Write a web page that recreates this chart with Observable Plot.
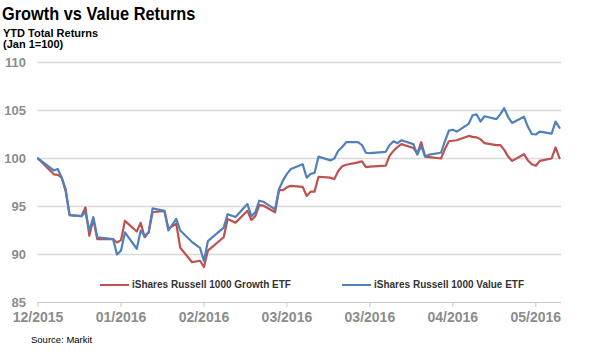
<!DOCTYPE html>
<html><head><meta charset="utf-8">
<script src="https://cdn.jsdelivr.net/npm/d3@7"></script>
<script src="https://cdn.jsdelivr.net/npm/@observablehq/plot@0.6"></script>
<style>
html,body{margin:0;padding:0;background:#fff;}
#wrap{position:relative;width:590px;height:355px;overflow:hidden;font-family:"Liberation Sans",Arial,sans-serif;}
#chart{position:absolute;left:0;top:0;}
.title{position:absolute;left:2px;top:3px;font-size:19px;font-weight:bold;color:#000;transform:scaleX(0.86);transform-origin:left top;white-space:nowrap;line-height:22px;}
.sub{position:absolute;left:3px;font-size:11px;font-weight:bold;color:#000;white-space:nowrap;line-height:12px;}
.legend{position:absolute;top:279px;font-size:10px;font-weight:bold;color:#333;white-space:nowrap;display:flex;align-items:center;}
.legend .sw{display:inline-block;width:29px;height:2px;margin-right:3px;}
.source{position:absolute;left:31px;top:334px;font-size:9.5px;color:#000;white-space:nowrap;}
svg [aria-label="x-axis tick label"] text, svg [aria-label="y-axis tick label"] text{font-weight:bold;}
</style></head>
<body>
<div id="wrap">
  <div id="chart"></div>
  <div class="title">Growth vs Value Returns</div>
  <div class="sub" style="top:27px">YTD Total Returns</div>
  <div class="sub" style="top:38px">(Jan 1=100)</div>
  <div id="legend"></div>
  <div class="source">Source: Markit</div>
</div>
<script>
const dates = ["2015-12-31","2016-01-04","2016-01-05","2016-01-06","2016-01-07","2016-01-08","2016-01-11","2016-01-12","2016-01-13","2016-01-14","2016-01-15","2016-01-19","2016-01-20","2016-01-21","2016-01-22","2016-01-25","2016-01-26","2016-01-27","2016-01-28","2016-01-29","2016-02-01","2016-02-02","2016-02-04","2016-02-05","2016-02-08","2016-02-10","2016-02-11","2016-02-12","2016-02-16","2016-02-17","2016-02-19","2016-02-22","2016-02-23","2016-02-24","2016-02-25","2016-02-26","2016-02-29","2016-03-01","2016-03-02","2016-03-03","2016-03-04","2016-03-07","2016-03-08","2016-03-09","2016-03-10","2016-03-11","2016-03-14","2016-03-15","2016-03-16","2016-03-17","2016-03-18","2016-03-21","2016-03-22","2016-03-23","2016-03-24","2016-03-28","2016-03-29","2016-03-30","2016-03-31","2016-04-01","2016-04-04","2016-04-05","2016-04-06","2016-04-07","2016-04-08","2016-04-11","2016-04-12","2016-04-13","2016-04-14","2016-04-15","2016-04-18","2016-04-19","2016-04-20","2016-04-21","2016-04-22","2016-04-25","2016-04-26","2016-04-27","2016-04-28","2016-04-29","2016-05-02","2016-05-03","2016-05-04","2016-05-05","2016-05-06","2016-05-09","2016-05-10","2016-05-11"];
const growth = [100,98.35,98.3,98.0,96.6,94.1,94.0,94.9,91.95,93.7,91.6,91.6,91.25,91.5,93.5,92.4,93.3,91.8,92.3,94.4,94.55,92.7,93.2,90.7,89.2,89.35,88.7,90.4,91.8,93.7,93.3,94.55,93.6,94.0,95.15,95.1,94.4,96.7,96.7,97.0,97.15,97.05,96.1,96.55,96.55,98.1,98.0,97.85,98.7,99.2,99.35,99.6,99.7,99.1,99.15,99.25,100.3,100.8,101.2,101.5,101.1,100.5,101.7,100.2,100.15,100.0,101.0,101.8,101.85,101.9,102.35,102.25,102.2,102.0,101.6,101.4,101.4,100.9,100.2,99.75,100.45,99.8,99.4,99.25,99.75,100.0,101.15,100.05];
const valueEtf = [100,98.75,98.9,98.0,96.8,94.1,94.0,94.4,92.5,93.9,91.8,91.6,90.0,90.4,92.3,90.6,92.5,91.95,92.3,94.8,94.55,92.5,93.7,92.5,91.3,90.7,89.3,91.4,92.8,94.2,93.9,95.25,94.0,94.4,95.6,95.5,94.7,96.8,97.7,98.4,98.9,99.4,98.0,98.4,98.5,100.2,99.8,100.0,100.8,101.2,101.7,101.7,101.4,100.6,100.55,100.7,101.4,101.8,101.6,101.9,101.5,100.4,101.3,100.2,100.4,100.6,101.8,102.9,103.0,102.8,103.6,104.5,104.6,103.85,104.4,104.1,104.6,105.25,104.3,103.7,104.35,103.3,102.55,102.5,102.8,102.6,103.85,103.2];
const seriesNames = ["iShares Russell 1000 Growth ETF","iShares Russell 1000 Value ETF"];
const seriesColors = ["#c0504d","#4f81bd"];
const yTicks = [85,90,95,100,105,110];
const xTickDates = ["2015-12-31","2016-01-21","2016-02-11","2016-03-03","2016-03-24","2016-04-14","2016-05-05"];
const xDomain = ["2015-12-31","2016-05-11T12:00"];

const parse = s => new Date(s.length > 10 ? s + "Z" : s + "T00:00Z");
const rows = [];
dates.forEach((d, i) => {
  rows.push({date: parse(d), v: growth[i], s: seriesNames[0]});
  rows.push({date: parse(d), v: valueEtf[i], s: seriesNames[1]});
});

const chart = Plot.plot({
  width: 590, height: 355,
  marginTop: 62, marginBottom: 53, marginLeft: 37.5, marginRight: 29,
  style: {fontFamily: "'Liberation Sans', Arial, sans-serif", background: "#fff", overflow: "visible"},
  x: {type: "utc", domain: xDomain.map(parse), label: null},
  y: {domain: [85, 110], label: null},
  color: {domain: seriesNames, range: seriesColors},
  marks: [
    Plot.gridY(yTicks.filter(t => t > 85), {stroke: "#d9d9d9", strokeOpacity: 1, strokeWidth: 1.5}),
    Plot.ruleY([85], {stroke: "#c8c8c8", strokeWidth: 1.2}),
    Plot.axisY(yTicks, {tickSize: 0, tickPadding: 12, fontSize: 13, fill: "#8c8c8c", label: null}),
    Plot.axisX(xTickDates.map(parse), {tickSize: 5, tickPadding: 5, stroke: "#c8c8c8", fill: "#8c8c8c", fontSize: 14, tickFormat: d3.utcFormat("%m/%Y"), label: null}),
    Plot.line(rows, {x: "date", y: "v", z: "s", stroke: "s", strokeWidth: 2.2, curve: "linear"})
  ]
});
document.getElementById("chart").appendChild(chart);

const legend = document.getElementById("legend");
const legendX = [100, 342];
seriesNames.forEach((n, i) => {
  const item = document.createElement("div");
  item.className = "legend";
  item.style.left = legendX[i] + "px";
  item.innerHTML = `<span class="sw" style="background:${seriesColors[i]}"></span><span>${n}</span>`;
  legend.appendChild(item);
});
</script>
</body></html>
